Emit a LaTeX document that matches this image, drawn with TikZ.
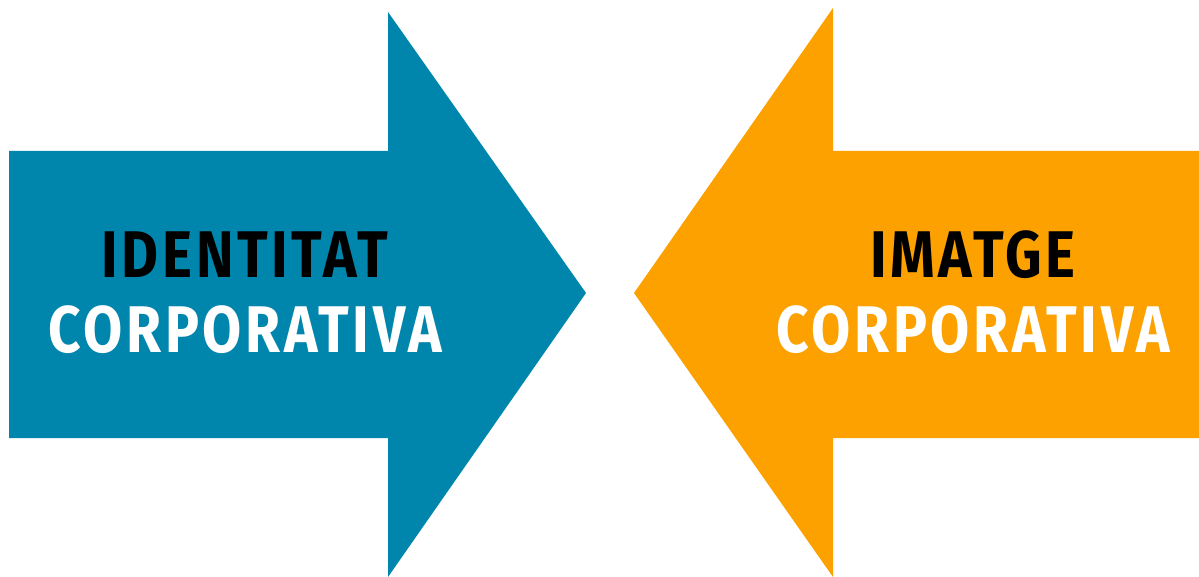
\documentclass[tikz,border=0pt]{standalone}
\usepackage{fontspec}
\setmainfont{Fira Sans}
\newfontfamily\titlefont[FakeStretch=0.86,LetterSpace=5.5]{Fira Sans}
\usepackage{tikz}
\usetikzlibrary{positioning}

\definecolor{identblue}{RGB}{0,134,173}
\definecolor{imgorange}{RGB}{252,161,0}

\tikzset{
  title/.style={font=\titlefont\fontsize{66}{74}\selectfont\bfseries, inner sep=0pt, anchor=base},
}

\begin{document}
\begin{tikzpicture}[x=1pt,y=-1pt]
          \useasboundingbox (0,0) rectangle (1199,577);

          % left arrow
          \fill[identblue] (9,151) -- (388,151) -- (388,12) -- (586,293)
          -- (388,577) -- (388,438) -- (9,438) -- cycle;

          % right arrow
          \fill[imgorange] (1199,151) -- (833,151) -- (833,8) -- (634,293)
          -- (833,577) -- (833,438) -- (1199,438) -- cycle;

          \node[title, text=black] (ident) at (245,278) {IDENTITAT};

          \node[title, text=white, below=74pt of ident.base, anchor=base]
          (corpl) {CORPORATIVA};

          \node[title, text=black] (imatge) at (973,278) {IMATGE};

          \node[title, text=white, below=74pt of imatge.base, anchor=base]
          (corpr) {CORPORATIVA};
        \end{tikzpicture}
\end{document}
